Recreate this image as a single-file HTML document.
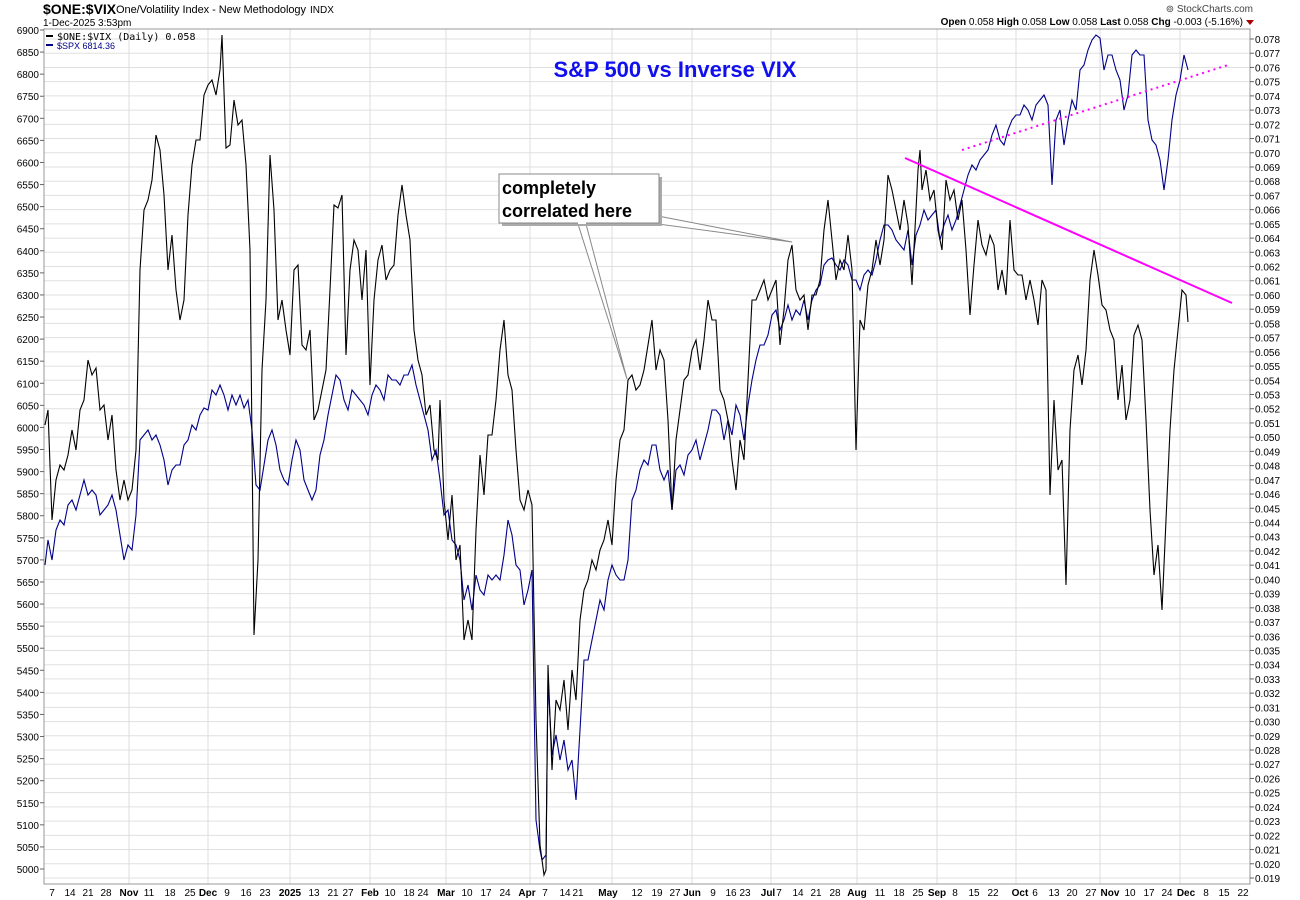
<!DOCTYPE html>
<html><head><meta charset="utf-8"><style>
html,body{margin:0;padding:0;background:#fff;}
svg{display:block;font-family:"Liberation Sans",Arial,sans-serif;}
</style></head><body>
<svg width="1300" height="900" viewBox="0 0 1300 900" xmlns="http://www.w3.org/2000/svg">
<rect width="1300" height="900" fill="#fff"/>
<text x="43" y="14" font-size="14" font-weight="bold">$ONE:$VIX</text>
<text x="116" y="13" font-size="11" textLength="190">One/Volatility Index - New Methodology</text>
<text x="310" y="13" font-size="10">INDX</text>
<text x="43" y="26" font-size="10">1-Dec-2025 3:53pm</text>
<text x="1253" y="12" font-size="10" fill="#444" text-anchor="end">⊚ StockCharts.com</text>
<text x="1243" y="25" font-size="10" text-anchor="end"><tspan font-weight="bold">Open</tspan> 0.058  <tspan font-weight="bold">High</tspan> 0.058  <tspan font-weight="bold">Low</tspan> 0.058  <tspan font-weight="bold">Last</tspan> 0.058  <tspan font-weight="bold">Chg</tspan> -0.003 (-5.16%)</text>
<polygon points="1246,20 1254,20 1250,25" fill="#a00"/>
<g stroke="#e0e0e0" stroke-width="1" id="hg"></g>
<g stroke="#dcdcdc" stroke-width="1">
<line x1="129" y1="29" x2="129" y2="884"/><line x1="208" y1="29" x2="208" y2="884"/><line x1="290" y1="29" x2="290" y2="884"/><line x1="370" y1="29" x2="370" y2="884"/><line x1="446" y1="29" x2="446" y2="884"/><line x1="530" y1="29" x2="530" y2="884"/><line x1="612" y1="29" x2="612" y2="884"/><line x1="692" y1="29" x2="692" y2="884"/><line x1="771" y1="29" x2="771" y2="884"/><line x1="857" y1="29" x2="857" y2="884"/><line x1="937" y1="29" x2="937" y2="884"/><line x1="1016" y1="29" x2="1016" y2="884"/><line x1="1100" y1="29" x2="1100" y2="884"/><line x1="1180" y1="29" x2="1180" y2="884"/>
</g>
<rect x="44" y="29" width="1206" height="855" fill="none" stroke="#999" stroke-width="1"/>
<g id="left" font-size="10" fill="#000" text-anchor="end"></g>
<g id="right" font-size="10" fill="#000"></g>
<g font-size="10" text-anchor="middle" id="bot">
<text x="52" y="896">7</text><text x="70" y="896">14</text><text x="88" y="896">21</text><text x="106" y="896">28</text><text x="129" y="896" font-weight="bold">Nov</text><text x="149" y="896">11</text><text x="170" y="896">18</text><text x="190" y="896">25</text><text x="208" y="896" font-weight="bold">Dec</text><text x="227" y="896">9</text><text x="246" y="896">16</text><text x="265" y="896">23</text><text x="290" y="896" font-weight="bold">2025</text><text x="314" y="896">13</text><text x="333" y="896">21</text><text x="348" y="896">27</text><text x="370" y="896" font-weight="bold">Feb</text><text x="390" y="896">10</text><text x="409" y="896">18</text><text x="423" y="896">24</text><text x="446" y="896" font-weight="bold">Mar</text><text x="467" y="896">10</text><text x="486" y="896">17</text><text x="505" y="896">24</text><text x="527" y="896" font-weight="bold">Apr</text><text x="545" y="896">7</text><text x="565" y="896">14</text><text x="578" y="896">21</text><text x="608" y="896" font-weight="bold">May</text><text x="637" y="896">12</text><text x="657" y="896">19</text><text x="675" y="896">27</text><text x="692" y="896" font-weight="bold">Jun</text><text x="713" y="896">9</text><text x="731" y="896">16</text><text x="745" y="896">23</text><text x="768" y="896" font-weight="bold">Jul</text><text x="779" y="896">7</text><text x="798" y="896">14</text><text x="816" y="896">21</text><text x="835" y="896">28</text><text x="857" y="896" font-weight="bold">Aug</text><text x="880" y="896">11</text><text x="899" y="896">18</text><text x="918" y="896">25</text><text x="937" y="896" font-weight="bold">Sep</text><text x="955" y="896">8</text><text x="974" y="896">15</text><text x="993" y="896">22</text><text x="1020" y="896" font-weight="bold">Oct</text><text x="1035" y="896">6</text><text x="1054" y="896">13</text><text x="1072" y="896">20</text><text x="1091" y="896">27</text><text x="1110" y="896" font-weight="bold">Nov</text><text x="1130" y="896">10</text><text x="1149" y="896">17</text><text x="1167" y="896">24</text><text x="1186" y="896" font-weight="bold">Dec</text><text x="1206" y="896">8</text><text x="1224" y="896">15</text><text x="1243" y="896">22</text>
</g>
<line x1="46" y1="36" x2="53" y2="36" stroke="#000" stroke-width="2"/>
<text x="57" y="40" font-size="10" font-family="DejaVu Sans Mono,monospace">$ONE:$VIX (Daily) 0.058</text>
<line x1="46" y1="45" x2="53" y2="45" stroke="#00008b" stroke-width="2"/>
<text x="57" y="49" font-size="9" fill="#00008b">$SPX 6814.36</text>
<text x="675" y="77" font-size="22" font-weight="bold" fill="#1010ee" text-anchor="middle">S&amp;P 500 vs Inverse VIX</text>
<polyline fill="none" stroke="#00008b" stroke-width="1.1" points="45,565 48,540 52,560 56,530 60,520 64,525 68,505 72,500 76,510 80,495 84,480 88,495 92,490 96,495 100,515 104,510 108,505 112,495 116,510 120,535 124,560 128,545 132,550 136,515 140,440 144,435 148,430 152,440 156,435 160,445 164,460 168,485 172,470 176,465 180,465 184,445 188,440 192,425 196,430 200,415 204,408 208,410 212,390 216,395 220,385 224,395 228,410 232,395 236,405 240,395 244,408 248,400 252,430 256,485 260,490 264,465 268,440 272,430 276,445 280,470 284,480 288,485 292,460 296,440 300,450 304,480 308,490 312,500 316,490 320,455 324,440 328,415 332,395 336,375 340,380 344,400 348,410 352,390 356,395 360,400 364,405 368,415 372,395 376,385 380,390 384,400 388,375 392,380 396,380 400,385 404,375 408,375 412,365 416,385 420,400 424,415 428,430 432,460 436,450 440,480 444,515 448,510 452,540 456,545 460,560 464,600 468,585 472,610 476,575 480,590 484,595 488,575 492,580 496,575 500,580 504,555 508,520 512,535 516,565 520,570 524,605 528,590 532,570 536,820 540,850 542,860 546,855 548,680 552,755 556,735 560,760 564,740 568,770 572,760 576,800 580,730 584,660 588,660 592,640 596,620 600,600 604,610 608,580 612,565 616,575 620,580 624,580 628,560 632,500 636,490 640,470 644,460 648,465 652,445 656,445 660,470 664,480 668,470 672,510 676,470 680,465 684,475 688,455 692,450 696,440 700,460 704,445 708,430 712,410 716,410 720,415 724,440 728,420 732,435 736,405 740,415 744,440 748,405 752,380 756,360 760,345 764,345 768,335 772,315 776,310 780,330 784,320 788,305 792,320 796,310 800,315 804,300 808,320 812,300 816,290 820,285 824,265 828,260 832,258 836,265 840,270 844,260 848,265 852,280 856,280 860,290 864,275 868,270 872,275 876,260 880,240 884,225 888,225 892,230 896,240 900,245 904,250 908,230 912,265 916,235 920,225 924,210 928,220 932,215 936,210 940,240 944,225 948,215 952,230 956,220 960,205 964,190 968,175 972,165 976,170 980,160 984,155 988,150 992,135 996,125 1000,140 1004,145 1008,130 1012,120 1016,115 1020,115 1024,105 1028,110 1032,120 1036,105 1040,100 1044,95 1048,105 1052,185 1056,120 1060,110 1064,145 1068,120 1072,100 1076,110 1080,70 1084,65 1088,50 1092,40 1096,35 1100,38 1104,70 1108,55 1112,55 1116,70 1120,80 1124,110 1128,95 1132,55 1136,50 1140,55 1144,55 1148,120 1152,140 1156,145 1160,160 1164,190 1168,160 1172,120 1176,95 1180,80 1184,55 1188,70"/>
<polyline fill="none" stroke="#000" stroke-width="1.1" points="45,425 48,410 52,520 56,480 60,465 64,470 68,455 72,430 76,450 80,410 84,400 88,360 92,375 96,368 100,410 104,405 108,440 112,415 116,470 120,500 124,480 128,500 132,490 136,450 140,270 144,210 148,200 152,180 156,135 160,150 164,195 168,270 172,235 176,290 180,320 184,300 188,215 192,165 196,140 200,140 204,95 208,85 212,80 216,95 220,70 222,35 226,148 230,145 234,100 238,125 242,120 246,165 250,250 254,635 258,560 262,370 266,300 270,155 274,210 278,320 282,300 286,330 290,355 294,270 298,265 302,345 306,350 310,330 314,420 318,410 322,390 326,370 330,290 334,205 338,208 342,195 346,355 350,270 354,240 358,250 362,300 366,250 370,385 374,300 378,260 382,245 386,280 390,270 394,265 398,215 402,185 406,215 410,240 414,330 418,360 422,375 426,415 430,405 434,450 438,460 440,400 444,500 448,540 452,495 456,560 460,545 464,640 468,620 472,640 476,530 480,455 484,495 488,435 492,435 496,400 500,350 504,320 508,375 512,390 516,450 520,500 524,510 528,490 532,505 536,720 540,845 544,875 546,870 548,665 552,770 556,700 560,710 564,680 568,730 572,670 576,700 580,620 584,590 588,580 592,560 596,570 600,550 604,540 608,520 612,545 616,480 620,440 624,430 628,380 632,375 636,390 640,385 644,370 648,345 652,320 656,370 660,350 664,360 668,420 672,510 676,440 680,410 684,380 688,375 692,350 696,340 700,370 704,340 708,300 712,320 716,320 720,390 724,400 728,420 732,460 736,490 740,440 744,460 748,380 752,300 756,300 760,290 764,280 768,300 772,290 776,280 780,345 784,310 788,260 792,245 796,290 800,300 804,295 808,330 812,295 816,295 820,280 824,230 828,200 832,240 836,280 840,260 844,270 848,235 852,270 856,450 860,320 864,330 868,285 872,270 876,240 880,265 884,240 888,175 892,190 896,210 900,230 904,200 908,225 912,285 916,210 918,170 920,150 922,190 926,170 930,200 934,190 938,230 942,250 946,180 950,200 954,190 958,220 962,200 966,250 970,315 974,265 978,220 982,245 986,255 990,235 994,245 998,290 1002,270 1006,295 1010,220 1014,270 1018,275 1022,275 1026,300 1030,280 1034,300 1038,325 1042,280 1046,290 1050,495 1054,400 1058,470 1062,460 1066,585 1070,430 1074,370 1078,355 1082,385 1086,350 1090,280 1094,250 1098,275 1102,305 1106,310 1110,330 1114,340 1118,400 1122,365 1126,420 1130,400 1134,335 1138,325 1142,340 1146,420 1150,510 1154,575 1158,545 1162,610 1166,520 1170,430 1174,370 1178,330 1182,290 1186,295 1188,322"/>
<line x1="905" y1="158" x2="1232" y2="303" stroke="#ff00ff" stroke-width="2"/>
<line x1="962" y1="150" x2="1228" y2="65" stroke="#ff00ff" stroke-width="2" stroke-dasharray="2,4"/>
<g>
<polygon points="578,224 586,224 627,379" fill="#fff" stroke="#888" stroke-width="1"/>
<polygon points="658,216 658,224 792,242" fill="#fff" stroke="#888" stroke-width="1"/>
<rect x="502" y="177" width="160" height="49" fill="#aaa"/>
<rect x="499" y="174" width="160" height="49" fill="#fff" stroke="#888" stroke-width="1"/>
<line x1="578" y1="223" x2="586" y2="223" stroke="#fff" stroke-width="2"/>
<text x="502" y="194" font-size="18" font-weight="bold">completely</text>
<text x="502" y="217" font-size="18" font-weight="bold">correlated here</text>
</g>
<script>
var ns="http://www.w3.org/2000/svg";
var hg=document.getElementById('hg'),L=document.getElementById('left'),R=document.getElementById('right');
for(var i=0;i<=59;i++){var v=78-i;var y=39+i*839/59;
 var l=document.createElementNS(ns,'line');l.setAttribute('x1',44);l.setAttribute('x2',1250);l.setAttribute('y1',y);l.setAttribute('y2',y);hg.appendChild(l);
 var t=document.createElementNS(ns,'text');t.setAttribute('x',1255);t.setAttribute('y',y+4);t.textContent='0.0'+(v<10?'0':'')+v;R.appendChild(t);
 var k=document.createElementNS(ns,'line');k.setAttribute('x1',1250);k.setAttribute('x2',1254);k.setAttribute('y1',y);k.setAttribute('y2',y);k.setAttribute('stroke','#666');R.appendChild(k);}
for(var j=0;j<=38;j++){var val=6900-j*50;var yy=30+j*839/38;
 var t2=document.createElementNS(ns,'text');t2.setAttribute('x',39);t2.setAttribute('y',yy+4);t2.textContent=val;L.appendChild(t2);
 var k2=document.createElementNS(ns,'line');k2.setAttribute('x1',40);k2.setAttribute('x2',44);k2.setAttribute('y1',yy);k2.setAttribute('y2',yy);k2.setAttribute('stroke','#666');L.appendChild(k2);}
</script>
</svg>
</body></html>
